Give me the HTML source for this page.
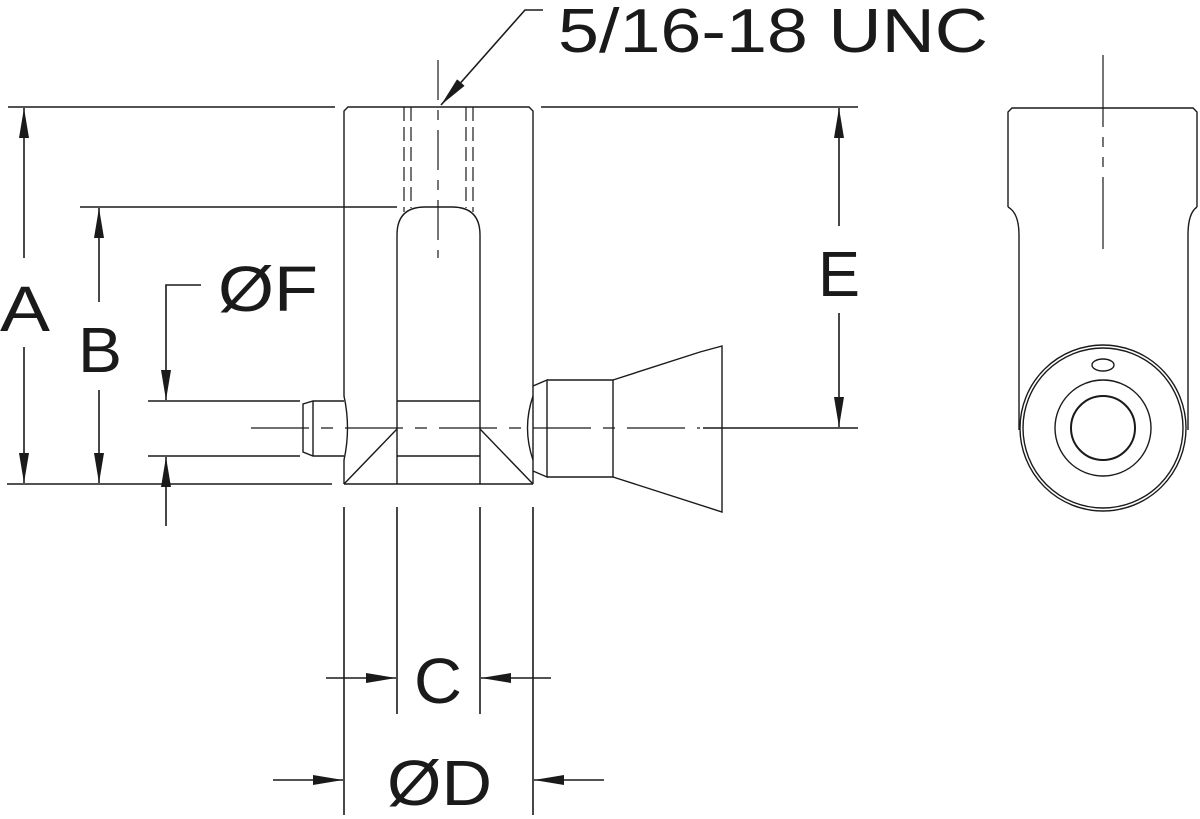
<!DOCTYPE html>
<html><head><meta charset="utf-8"><style>
html,body{margin:0;padding:0;background:#fff}
svg{display:block}
text{font-family:"Liberation Sans",Arial,sans-serif;fill:#1a1a1a}
</style></head><body>
<svg width="1200" height="819" viewBox="0 0 1200 819" xmlns="http://www.w3.org/2000/svg">
<defs>
<marker id="ar" viewBox="0 0 30 10" refX="30" refY="5" markerWidth="30" markerHeight="10" markerUnits="userSpaceOnUse" orient="auto-start-reverse">
<path d="M0,0 L30,5 L0,10 Z" fill="#1a1a1a"/>
</marker>
</defs>
<g stroke="#1a1a1a" fill="none">
<g stroke-width="1.6">
<line x1="8" y1="107" x2="335" y2="107"/>
<line x1="541" y1="107" x2="858" y2="107"/>
<line x1="7" y1="484" x2="332" y2="484"/>
<line x1="80" y1="207" x2="397" y2="207"/>
<line x1="148" y1="401" x2="300" y2="401"/>
<line x1="148" y1="456" x2="300" y2="456"/>
<line x1="703" y1="428" x2="858" y2="428"/>
<line x1="344" y1="507" x2="344" y2="815"/>
<line x1="533" y1="507" x2="533" y2="815"/>
<line x1="397" y1="507" x2="397" y2="714"/>
<line x1="480" y1="507" x2="480" y2="714"/>
</g>
<g stroke-width="1.6">
<line x1="24" y1="347" x2="24" y2="483" marker-end="url(#ar)"/>
<line x1="24" y1="258" x2="24" y2="108" marker-end="url(#ar)"/>
<line x1="99" y1="302" x2="99" y2="208" marker-end="url(#ar)"/>
<line x1="99" y1="390" x2="99" y2="483" marker-end="url(#ar)"/>
<polyline points="201,285 166,285 166,400" marker-end="url(#ar)"/>
<line x1="166" y1="526" x2="166" y2="457" marker-end="url(#ar)"/>
<line x1="839" y1="226" x2="839" y2="108" marker-end="url(#ar)"/>
<line x1="839" y1="313" x2="839" y2="427" marker-end="url(#ar)"/>
<line x1="326" y1="678" x2="396" y2="678" marker-end="url(#ar)"/>
<line x1="551" y1="678" x2="481" y2="678" marker-end="url(#ar)"/>
<line x1="273" y1="780" x2="343" y2="780" marker-end="url(#ar)"/>
<line x1="604" y1="780" x2="534" y2="780" marker-end="url(#ar)"/>
<polyline points="543,10 525,10 441,105" marker-end="url(#ar)"/>
</g>
<g stroke-width="1.4">
<path d="M344,484 V460 Q351,428 344,396 V111 L348,107 H529 L533,111 V484"/>
<line x1="344" y1="484" x2="533" y2="484"/>
<path d="M397,484 V235 Q397,207 425,207 H452 Q480,207 480,235 V484"/>
<line x1="397" y1="401" x2="480" y2="401"/>
<line x1="397" y1="456" x2="480" y2="456"/>
<line x1="344" y1="484" x2="397" y2="429"/>
<line x1="533" y1="484" x2="480" y2="429"/>
<path d="M533,396 Q522,428 533,460"/>
<path d="M344,401 H313 L303,404 V452 L313,456 H344"/>
<line x1="313" y1="401" x2="313" y2="456"/>
<path d="M533,386 L547,380 V477 L533,471"/>
<path d="M547,380 H613 V477 H547"/>
<path d="M613,380 L700,352 L722,346 V512 L613,477"/>
</g>
<g stroke-width="1.2" stroke-dasharray="14,6">
<line x1="404" y1="107" x2="404" y2="212"/>
<line x1="411" y1="107" x2="411" y2="208"/>
<line x1="466" y1="107" x2="466" y2="208"/>
<line x1="473" y1="107" x2="473" y2="212"/>
</g>
<g stroke-width="1.2">
<line x1="251" y1="428" x2="700" y2="428" stroke-dasharray="58,12,12,12"/>
<line x1="438" y1="60" x2="438" y2="258" stroke-dasharray="40,10,10,10"/>
<line x1="1103" y1="55" x2="1103" y2="258" stroke-dasharray="72,10,10,10,10,10"/>
</g>
<g stroke-width="1.4">
<path d="M1008,207 V112 L1012,108 H1193 L1197,112 V207"/>
<path d="M1008,207 Q1019,213 1019,235 V430"/>
<path d="M1197,207 Q1188,213 1188,235 V430"/>
<circle cx="1103" cy="428" r="83"/>
<circle cx="1103" cy="428" r="80"/>
<circle cx="1103" cy="428" r="48"/>
<circle cx="1103" cy="428" r="32" stroke-width="2"/>
<ellipse cx="1103" cy="365" rx="11" ry="6"/>
</g>
</g>
<text x="558" y="52" font-size="62" textLength="430" lengthAdjust="spacingAndGlyphs">5/16-18 UNC</text>
<text x="0" y="331" font-size="64" textLength="50" lengthAdjust="spacingAndGlyphs">A</text>
<text x="78" y="372" font-size="64" textLength="44" lengthAdjust="spacingAndGlyphs">B</text>
<text x="218" y="311" font-size="64" textLength="100" lengthAdjust="spacingAndGlyphs">ØF</text>
<text x="818" y="296" font-size="64" textLength="42" lengthAdjust="spacingAndGlyphs">E</text>
<text x="414" y="703" font-size="64" textLength="48" lengthAdjust="spacingAndGlyphs">C</text>
<text x="387" y="805" font-size="64" textLength="105" lengthAdjust="spacingAndGlyphs">ØD</text>
</svg>
</body></html>
